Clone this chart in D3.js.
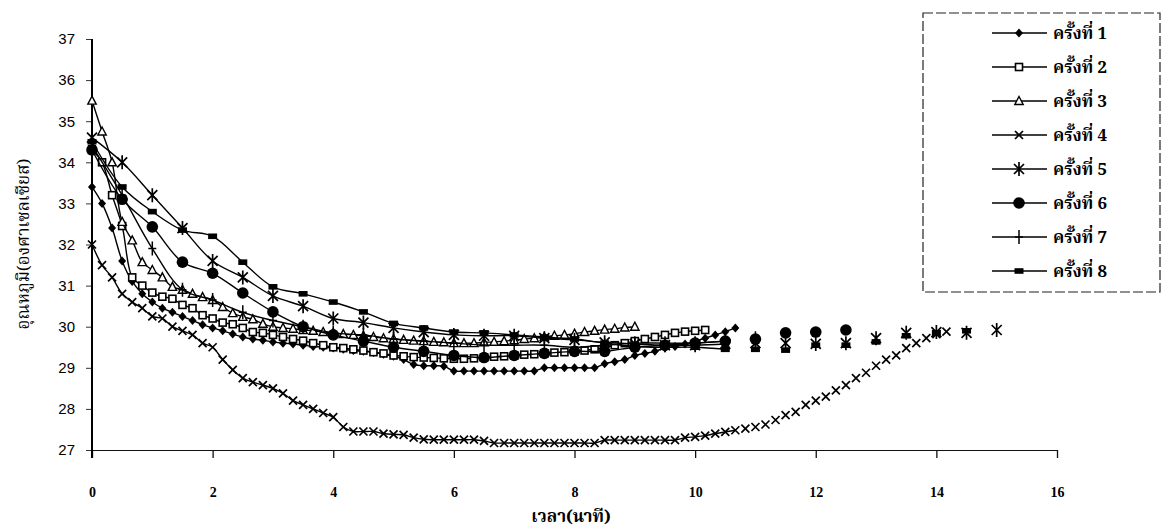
<!DOCTYPE html>
<html>
<head>
<meta charset="utf-8">
<script src="https://d3js.org/d3.v7.min.js"></script>
<style>
  body { margin: 0; background: #fff; }
  svg { display: block; }
  .thai { font-family: "Noto Serif Thai", "Noto Sans Thai", "Garuda", "Loma", "Norasi", "DejaVu Sans", serif; }
</style>
</head>
<body>
<div id="chart"></div>
<script>
// Temperature readings (deg C)
// runs 1-4 were logged every 10 seconds, runs 5-8 every 30 seconds

var run1 = [33.4, 33.0, 32.4, 31.6, 31.1, 30.8, 30.6, 30.45, 30.35, 30.25, 30.15, 30.05, 29.97, 29.9, 29.82, 29.75,
    29.7, 29.67, 29.63, 29.6, 29.58, 29.55, 29.52, 29.5, 29.48, 29.45, 29.42, 29.4, 29.37, 29.33, 29.28, 29.2,
    29.08, 29.05, 29.05, 29.04, 28.92, 28.92, 28.92, 28.92, 28.92, 28.92, 28.92, 28.92, 28.92, 29.0, 29.0, 29.0,
    29.0, 29.0, 29.0, 29.1, 29.15, 29.2, 29.3, 29.35, 29.4, 29.48, 29.52, 29.58, 29.65, 29.72, 29.8, 29.88, 29.97];

var run2 = [34.3, 34.0, 33.2, 32.45, 31.2, 31.0, 30.83, 30.73, 30.68, 30.53, 30.45, 30.28, 30.2, 30.1, 30.06, 29.97,
    29.87, 29.85, 29.8, 29.75, 29.7, 29.66, 29.6, 29.55, 29.5, 29.48, 29.45, 29.42, 29.38, 29.35, 29.3, 29.28,
    29.26, 29.25, 29.24, 29.23, 29.22, 29.22, 29.23, 29.25, 29.27, 29.28, 29.3, 29.32, 29.33, 29.35, 29.37, 29.38,
    29.4, 29.42, 29.45, 29.5, 29.55, 29.6, 29.65, 29.7, 29.75, 29.8, 29.85, 29.88, 29.9, 29.92];

var run3 = [35.5, 34.75, 34.0, 32.55, 32.1, 31.57, 31.38, 31.2, 30.97, 30.9, 30.8, 30.72, 30.65, 30.48, 30.33, 30.24,
    30.18, 30.07, 30.0, 29.97, 29.95, 29.92, 29.9, 29.87, 29.85, 29.82, 29.8, 29.78, 29.75, 29.72, 29.7, 29.68,
    29.66, 29.65, 29.63, 29.62, 29.6, 29.6, 29.6, 29.62, 29.63, 29.65, 29.67, 29.7, 29.72, 29.75, 29.78, 29.8,
    29.83, 29.87, 29.9, 29.93, 29.95, 29.98, 30.0];

var run4 = [32.0, 31.5, 31.2, 30.8, 30.6, 30.45, 30.25, 30.2, 30.0, 29.9, 29.8, 29.6, 29.5, 29.2, 28.95, 28.75,
    28.65, 28.58, 28.5, 28.38, 28.2, 28.1, 28.0, 27.9, 27.8, 27.56, 27.45, 27.45, 27.45, 27.4, 27.38, 27.37,
    27.3, 27.26, 27.25, 27.25, 27.25, 27.25, 27.25, 27.22, 27.17, 27.17, 27.17, 27.17, 27.17, 27.17, 27.17, 27.17,
    27.17, 27.17, 27.17, 27.24, 27.24, 27.24, 27.24, 27.24, 27.24, 27.24, 27.24, 27.3, 27.32, 27.35, 27.4, 27.44,
    27.48, 27.52, 27.56, 27.62, 27.73, 27.85, 27.93, 28.1, 28.2, 28.3, 28.45, 28.58, 28.75, 28.88, 29.05, 29.2,
    29.3, 29.48, 29.6, 29.72, 29.82, 29.88];

var run5 = [34.6, 34.0, 33.2, 32.4, 31.6, 31.2, 30.75, 30.5, 30.2, 30.1, 29.97, 29.87, 29.8, 29.78, 29.78, 29.72,
    29.68, 29.62, 29.58, 29.55, 29.55, 29.58, 29.6, 29.6, 29.58, 29.6, 29.72, 29.85, 29.87, 29.85, 29.92];

var run6 = [34.3, 33.1, 32.43, 31.57, 31.3, 30.82, 30.36, 30.0, 29.8, 29.65, 29.5, 29.4, 29.3, 29.25, 29.3, 29.35,
    29.4, 29.4, 29.5, 29.55, 29.6, 29.65, 29.7, 29.85, 29.87, 29.92];

var run7 = [34.4, 33.2, 31.9, 30.9, 30.65, 30.35, 30.15, 30.0, 29.85, 29.8, 29.7, 29.65, 29.6, 29.55, 29.55, 29.55,
    29.5, 29.55, 29.6, 29.6, 29.6, 29.65, 29.72];

var run8 = [34.5, 33.4, 32.8, 32.35, 32.2, 31.57, 30.97, 30.8, 30.6, 30.36, 30.08, 29.97, 29.87, 29.85, 29.8, 29.75,
    29.7, 29.6, 29.52, 29.5, 29.5, 29.45, 29.45, 29.43, 29.55, 29.55, 29.63, 29.78, 29.85, 29.9];

var runNames = ["ครั้งที่ 1", "ครั้งที่ 2", "ครั้งที่ 3", "ครั้งที่ 4", "ครั้งที่ 5", "ครั้งที่ 6", "ครั้งที่ 7", "ครั้งที่ 8"];
var runSteps = [1/6, 1/6, 1/6, 1/6, 0.5, 0.5, 0.5, 0.5];   // minutes between readings
var runMarkers = ["diamond", "square", "triangle", "cross", "star", "circle", "plus", "bar"];

var xTicks = [0, 2, 4, 6, 8, 10, 12, 14, 16];
var yTicks = [27, 28, 29, 30, 31, 32, 33, 34, 35, 36, 37];

var xTitle = "เวลา(นาที)";
var yTitle = "อุณหภูมิ(องศาเซลเซียส)";

// the connecting lines stop here, later readings are only markers
var lineEndMinute = 10.7;


/*
 *  TempChart - draws the line chart
 */

TempChart = function(_parentElement, _runs) {
    this.parentElement = _parentElement;
    this.runs = _runs;

    this.initVis();
}

TempChart.prototype.initVis = function() {
    var vis = this;

    vis.width = 1168;
    vis.height = 530;

    vis.svg = d3.select(vis.parentElement).append("svg")
        .attr("width", vis.width)
        .attr("height", vis.height);

    // * scales
    vis.x = d3.scaleLinear().domain([0, 16]).range([92, 1057]);
    vis.y = d3.scaleLinear().domain([27, 37]).range([450, 39]);

    // * axes
    var xAxis = d3.axisBottom(vis.x)
        .tickValues(xTicks)
        .tickSize(8)
        .tickSizeOuter(0)
        .tickPadding(29);

    var yAxis = d3.axisLeft(vis.y)
        .tickValues(yTicks)
        .tickSize(6)
        .tickSizeOuter(0)
        .tickPadding(11);

    var gx = vis.svg.append("g")
        .attr("transform", "translate(0," + vis.y(27) + ")")
        .call(xAxis);
    gx.select(".domain").attr("stroke", "#111").attr("stroke-width", 1.2);
    gx.selectAll(".tick line").attr("stroke", "#111").attr("stroke-width", 1.3);
    gx.selectAll(".tick text")
        .attr("fill", "#000")
        .style("font-family", "'Liberation Serif', 'Times New Roman', serif")
        .style("font-weight", "bold")
        .style("font-size", "14px");

    var gy = vis.svg.append("g")
        .attr("transform", "translate(" + vis.x(0) + ",0)")
        .call(yAxis);
    gy.select(".domain").remove();
    gy.selectAll(".tick line").attr("stroke", "#333").attr("stroke-width", 1);
    gy.selectAll(".tick text")
        .attr("fill", "#000")
        .style("font-family", "'Liberation Sans', Arial, sans-serif")
        .style("font-size", "15px");

    // y axis line runs a bit past the x axis
    vis.svg.append("line")
        .attr("x1", vis.x(0)).attr("x2", vis.x(0))
        .attr("y1", vis.y(37)).attr("y2", vis.y(27) + 8)
        .attr("stroke", "#000")
        .attr("stroke-width", 2);

    // * axis titles
    vis.svg.append("text")
        .attr("class", "thai")
        .attr("x", 571)
        .attr("y", 522)
        .attr("text-anchor", "middle")
        .style("font-size", "17px")
        .style("font-weight", "bold")
        .text(xTitle);

    vis.svg.append("text")
        .attr("class", "thai")
        .attr("transform", "translate(29,244) rotate(-90)")
        .attr("text-anchor", "middle")
        .style("font-size", "17px")
        .text(yTitle);

    vis.line = d3.line()
        .curve(d3.curveCatmullRom.alpha(0.5))
        .x(function(d) { return vis.x(d.t); })
        .y(function(d) { return vis.y(d.v); });

    vis.updateVis();
}


// marker shapes, centred on 0,0
TempChart.prototype.drawMarker = function(g, type) {
    if (type == "diamond") {
        g.append("path").attr("d", "M0,-4.5L4,0L0,4.5L-4,0Z").attr("fill", "#000");
    } else if (type == "square") {
        g.append("rect").attr("x", -3.5).attr("y", -3.5).attr("width", 7).attr("height", 7)
            .attr("fill", "#fff").attr("stroke", "#000").attr("stroke-width", 1.6);
    } else if (type == "triangle") {
        g.append("path").attr("d", "M0,-4.5L4.2,3.5L-4.2,3.5Z")
            .attr("fill", "#fff").attr("stroke", "#000").attr("stroke-width", 1.4);
    } else if (type == "cross") {
        g.append("path").attr("d", "M-4,-4L4,4M-4,4L4,-4")
            .attr("stroke", "#000").attr("stroke-width", 1.7);
    } else if (type == "star") {
        g.append("path").attr("d", "M-5,-5L5,5M-5,5L5,-5M0,-7L0,7")
            .attr("stroke", "#000").attr("stroke-width", 1.7);
    } else if (type == "circle") {
        g.append("circle").attr("r", 5.8).attr("fill", "#000");
    } else if (type == "plus") {
        g.append("path").attr("d", "M0,-7L0,7M-4,0L4,0")
            .attr("stroke", "#000").attr("stroke-width", 1.5);
    } else if (type == "bar") {
        g.append("rect").attr("x", -4.5).attr("y", -2.8).attr("width", 9).attr("height", 5.6).attr("fill", "#000");
    }
}


TempChart.prototype.updateVis = function() {
    var vis = this;

    vis.runs.forEach(function(run, k) {
        var pts = run.values.map(function(v, i) { return {t: i * run.step, v: v}; });
        var linePts = pts.filter(function(d) { return d.t <= lineEndMinute; });

        var g = vis.svg.append("g").attr("class", "run run" + (k + 1));

        g.append("path")
            .datum(linePts)
            .attr("d", vis.line)
            .attr("fill", "none")
            .attr("stroke", "#000")
            .attr("stroke-width", 1.4);

        g.selectAll(".marker")
            .data(pts)
            .enter()
            .append("g")
            .attr("class", "marker")
            .attr("transform", function(d) { return "translate(" + vis.x(d.t) + "," + vis.y(d.v) + ")"; })
            .each(function() { vis.drawMarker(d3.select(this), run.marker); });
    });

    // * legend
    var legend = vis.svg.append("g").attr("class", "legend");

    legend.append("rect")
        .attr("x", 923).attr("y", 13)
        .attr("width", 237).attr("height", 279)
        .attr("fill", "#fff")
        .attr("stroke", "#222")
        .attr("stroke-width", 1.2)
        .attr("stroke-dasharray", "10,3");

    var items = legend.selectAll(".legendItem")
        .data(vis.runs)
        .enter()
        .append("g")
        .attr("class", "legendItem")
        .attr("transform", function(d, i) { return "translate(0," + (33 + i * 34) + ")"; });

    items.append("line")
        .attr("x1", 992).attr("x2", 1047)
        .attr("stroke", "#000")
        .attr("stroke-width", 1.5);

    items.append("g")
        .attr("transform", "translate(1019,0)")
        .each(function(d) { vis.drawMarker(d3.select(this), d.marker); });

    items.append("text")
        .attr("class", "thai")
        .attr("x", 1053)
        .attr("y", 6)
        .style("font-size", "17px")
        .style("font-weight", "bold")
        .text(function(d) { return d.name; });
}


var runs = [run1, run2, run3, run4, run5, run6, run7, run8].map(function(values, i) {
    return {name: runNames[i], values: values, step: runSteps[i], marker: runMarkers[i]};
});

var chart = new TempChart("#chart", runs);
</script>
</body>
</html>
